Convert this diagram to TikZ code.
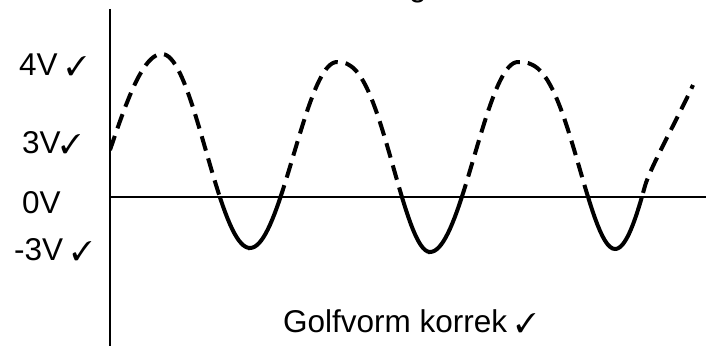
\documentclass[tikz,border=0pt]{standalone}
\usepackage{fontspec}
\setmainfont{Liberation Sans}
\usepackage{pifont}
\newcommand{\ckmark}{{\fontsize{27}{27}\selectfont\ding{51}}}
\newcommand{\wavecurve}{%
  plot[domain=110:162,samples=30] (\x,{155.4-101.4*cos((\x-162)*1.673)})
  -- plot[domain=162.01:250,samples=40] (\x,{151-97*cos(180*((\x-162)/88))})
  -- plot[domain=250:337,samples=40] (\x,{155+93*cos(180*((\x-250)/87))})
  -- plot[domain=337.01:430,samples=40] (\x,{157-95*cos(180*(max(0.0001,(\x-337)/93))^1.25)})
  -- plot[domain=430:518,samples=40] (\x,{157+95*cos(180*((\x-430)/88))})
  -- plot[domain=518.01:615,samples=40] (\x,{155.5-93.5*cos(180*(max(0.0001,(\x-518)/97))^1.34)})
  -- plot[domain=615:645,samples=20] (\x,{155.5+93.5*cos(180*((\x-615)/76))})
  .. controls (650,168) and (680,114) .. (693,85)}
\begin{document}
\begin{tikzpicture}[x=1pt,y=-1pt,
  lbl/.style={anchor=base west,inner sep=0pt,font=\fontsize{31.5}{36}\selectfont},
  axisline/.style={line width=2.2pt},
  wave/.style={line width=4pt},
  dashwave/.style={wave,dash pattern=on 15pt off 8pt}]
\useasboundingbox (0,0) rectangle (706,345);
% cut-off title fragment
\node[lbl,anchor=base] (ttl) at (418,-3.6) {g};
% axes
\coordinate (ytop) at (110,9);
\coordinate (ybot) at (110,346);
\coordinate (org) at (110,197);
\coordinate (xend) at (707,197);
\draw[axisline] (ytop) -- (ybot);
\draw[axisline] (org) -- (xend);
% labels
\node[lbl] (l4) at (19,75) {4V \ckmark};
\node[lbl] (l3) at (22,153) {3V\ckmark};
\node[lbl] (l0) at (22,213) {0V};
\node[lbl] (lm3) at (14,260) {-3V \ckmark};
\node[lbl] (gv) at (283,332) {Golfvorm korrek \ckmark};
% waveform
\begin{scope}
  \clip (110,0) rectangle (706,197);
  \draw[dashwave] \wavecurve;
\end{scope}
\begin{scope}
  \clip (110,197) rectangle (706,345);
  \draw[wave] \wavecurve;
\end{scope}
\end{tikzpicture}
\end{document}
